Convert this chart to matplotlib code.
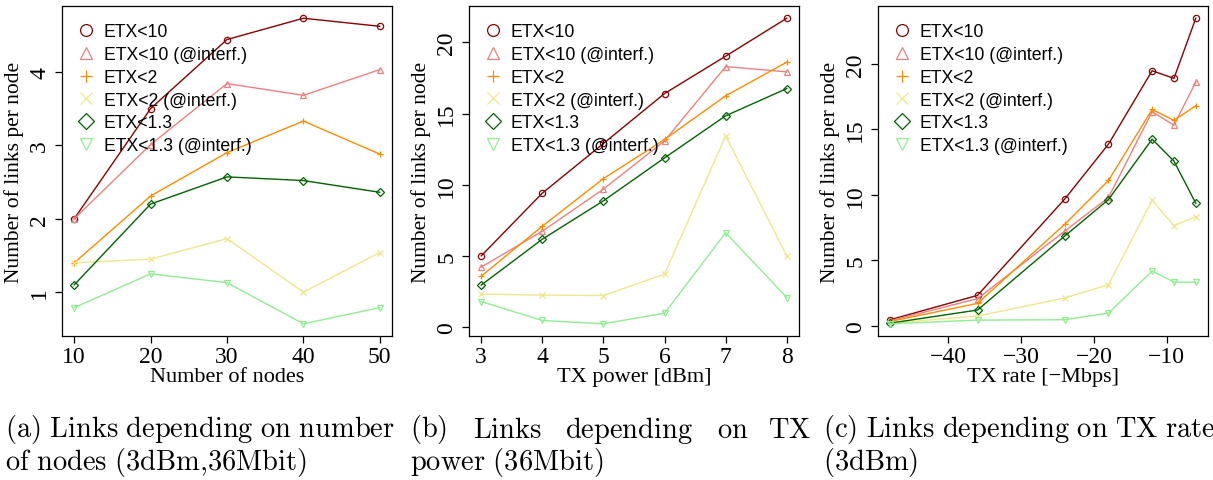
import matplotlib
matplotlib.use("Agg")
import matplotlib.pyplot as plt
from matplotlib.lines import Line2D

plt.rcParams['mathtext.fontset'] = 'cm'

# --- data -------------------------------------------------------------
labels = ['ETX<10', 'ETX<10 (@interf.)', 'ETX<2', 'ETX<2 (@interf.)',
          'ETX<1.3', 'ETX<1.3 (@interf.)']
colors = ['#8B0000', '#F08080', '#FF8C00', '#F0E68C', '#006400', '#90EE90']
markers = ['o', '^', '+', 'x', 'D', 'v']

nodes = [10, 20, 30, 40, 50]
links_nodes = [
    [2.00, 3.50, 4.44, 4.73, 4.62],
    [2.00, 3.01, 3.84, 3.68, 4.03],
    [1.40, 2.31, 2.90, 3.33, 2.88],
    [1.40, 1.45, 1.73, 1.00, 1.54],
    [1.10, 2.20, 2.57, 2.52, 2.36],
    [0.79, 1.25, 1.13, 0.57, 0.79],
]

power = [3, 4, 5, 6, 7, 8]
links_power = [
    [5.02, 9.42, 12.9, 16.4, 19.02, 21.68],
    [4.23, 6.75, 9.70, 13.08, 18.29, 17.92],
    [3.60, 7.10, 10.44, 13.18, 16.24, 18.60],
    [2.34, 2.27, 2.24, 3.74, 13.43, 5.02],
    [2.97, 6.19, 8.88, 11.89, 14.84, 16.75],
    [1.82, 0.49, 0.26, 1.00, 6.64, 2.10],
]

rate = [-48, -36, -24, -18, -12, -9, -6]
links_rate = [
    [0.46, 2.32, 9.69, 13.88, 19.49, 18.90, 23.50],
    [0.38, 2.07, 7.24, 9.80, 16.35, 15.33, 18.62],
    [0.33, 1.71, 7.76, 11.10, 16.53, 15.69, 16.81],
    [0.20, 0.74, 2.12, 3.14, 9.59, 7.65, 8.34],
    [0.20, 1.20, 6.86, 9.64, 14.26, 12.58, 9.36],
    [0.15, 0.43, 0.46, 0.97, 4.18, 3.34, 3.32],
]

panels = [
    (nodes, links_nodes, 'Number of nodes', [1, 2, 3, 4], [10, 20, 30, 40, 50]),
    (power, links_power, 'TX power [dBm]', [0, 5, 10, 15, 20], [3, 4, 5, 6, 7, 8]),
    (rate, links_rate, 'TX rate [\u2212Mbps]', [0, 5, 10, 15, 20], [-40, -30, -20, -10]),
]

# --- figure -----------------------------------------------------------
W, H = 1213, 481
fig = plt.figure(figsize=(W / 100, H / 100), dpi=100)
lefts = [62, 469, 878]
serif = 'Liberation Serif'
sans = 'Liberation Sans'

for left, (x, ys, xlabel, yticks, xticks) in zip(lefts, panels):
    ax = fig.add_axes([left / W, (H - 337) / H, 330 / W, 330 / H])
    for y, lab, c, m in zip(ys, labels, colors, markers):
        ax.plot(x, y, color=c, marker=m, markersize=4.5, markeredgewidth=0.9,
                markerfacecolor='none', lw=1.0, label=lab)
    ax.margins(0.04)
    ax.set_yticks(yticks)
    ax.set_xticks(xticks)
    ax.tick_params(direction='out', length=5, width=0.9, labelsize=17)
    ax.tick_params(axis='x', pad=2)
    for t in ax.get_xticklabels():
        t.set_fontfamily(serif)
    for t in ax.get_yticklabels():
        t.set_fontfamily(serif)
        t.set_rotation(90)
        t.set_va('center')
    ax.set_xlabel(xlabel, fontsize=16, family=serif, labelpad=0)
    ax.set_ylabel('Number of links per node', fontsize=15.5, family=serif, labelpad=4)
    for s in ax.spines.values():
        s.set_linewidth(0.9)
    handles = [Line2D([], [], ls='none', color=c, marker=m, markersize=8.5,
                      markeredgewidth=0.9, markerfacecolor='none')
               for c, m in zip(colors, markers)]
    ax.legend(handles, labels, loc='upper left', bbox_to_anchor=(8 / 330, 1 - 10 / 330),
              borderaxespad=0, frameon=False, handlelength=1.0,
              handletextpad=0.5, labelspacing=0.33,
              prop={'family': sans, 'size': 12.7})

# --- captions ---------------------------------------------------------
def cm(s):
    return '$\\mathrm{' + s.replace(' ', '\\ ').replace(',', '{,}') + '}$'

cap = 20.5
y1 = 1 - 430 / H
y2 = 1 - 463 / H
fig.text(5 / W, y1, cm('(a) Links depending on number'), fontsize=cap, va='center')
fig.text(5 / W, y2, cm('of nodes (3dBm,36Mbit)'), fontsize=cap, va='center')
for word, px in [('(b)', 410), ('Links', 473), ('depending', 565), ('on', 717), ('TX', 768)]:
    fig.text(px / W, y1, cm(word), fontsize=cap, va='center')
fig.text(410 / W, y2, cm('power (36Mbit)'), fontsize=cap, va='center')
fig.text(823 / W, y1, cm('(c) Links depending on TX rate'), fontsize=cap, va='center')
fig.text(823 / W, y2, cm('(3dBm)'), fontsize=cap, va='center')

fig.savefig('out.png', dpi=100)
